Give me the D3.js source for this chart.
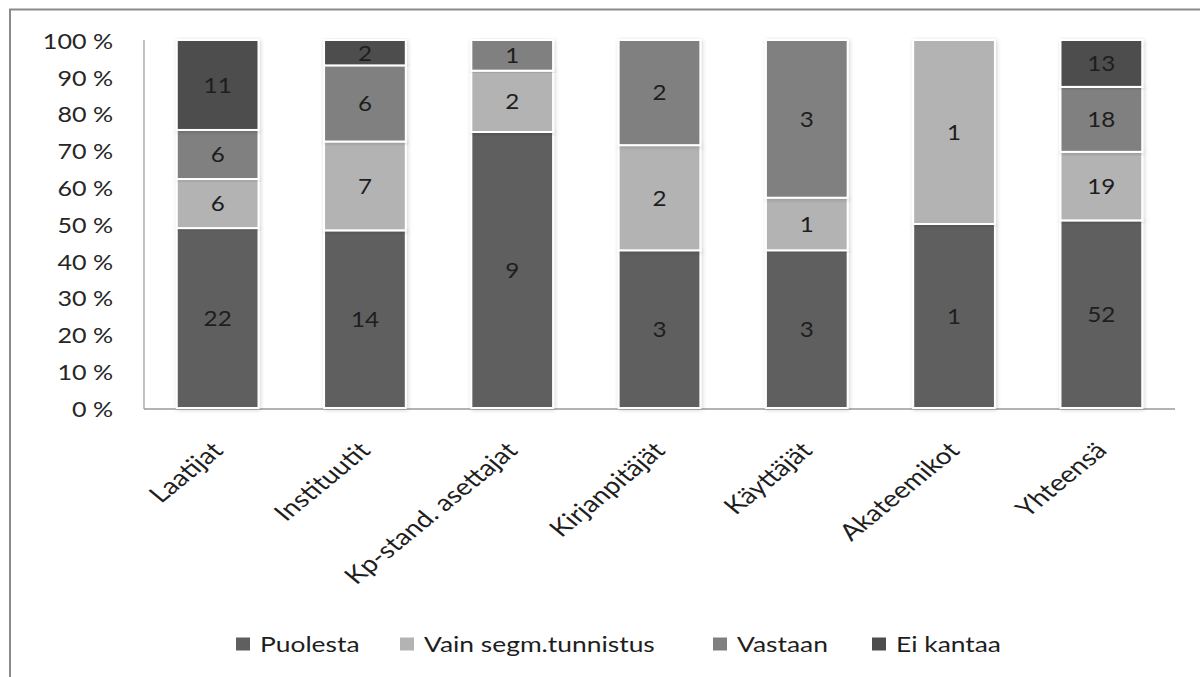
<!DOCTYPE html>
<html>
<head>
<meta charset="utf-8">
<script src="https://cdn.jsdelivr.net/npm/d3@7"></script>
<style>
  html, body { margin: 0; padding: 0; background: #fff; }
  svg { display: block; font-family: Lato, "Open Sans", sans-serif; }
</style>
</head>
<body>
<svg id="chart" width="1200" height="677"></svg>
<script>
// Respondent groups and answer counts per opinion
const categories = ["Laatijat", "Instituutit", "Kp-stand. asettajat", "Kirjanpitäjät", "Käyttäjät", "Akateemikot", "Yhteensä"];
const seriesNames = ["Puolesta", "Vain segm.tunnistus", "Vastaan", "Ei kantaa"];
const puolesta = [22, 14, 9, 3, 3, 1, 52];
const vainSegm = [6, 7, 2, 2, 1, 1, 19];
const vastaan  = [6, 6, 1, 2, 3, 0, 18];
const eiKantaa = [11, 2, 0, 0, 0, 0, 13];
const yTicks = [0, 0.1, 0.2, 0.3, 0.4, 0.5, 0.6, 0.7, 0.8, 0.9, 1];
const colors = ["#5f5f5f", "#b3b3b3", "#808080", "#4d4d4d"];

const seriesValues = [puolesta, vainSegm, vastaan, eiKantaa];
const rows = categories.map((c, i) => {
  const r = { category: c };
  seriesNames.forEach((s, k) => r[s] = seriesValues[k][i]);
  return r;
});

const svg = d3.select("#chart");
const textColor = "#1e1e1e";

// outer frame
svg.append("path")
  .attr("d", "M10,677 L10,9.5 L1200,9.5")
  .attr("fill", "none").attr("stroke", "#8a8a8a").attr("stroke-width", 2);

const plot = { left: 144, right: 1175, top: 40, bottom: 408 };

const x = d3.scaleBand().domain(categories).range([plot.left, plot.right]).paddingInner(0.445).paddingOuter(0.2225);
const y = d3.scaleLinear().domain([0, 1]).range([plot.bottom, plot.top]);

const defs = svg.append("defs");
const f = defs.append("filter").attr("id", "shadow").attr("x", "-10%").attr("y", "-5%").attr("width", "120%").attr("height", "110%");
f.append("feDropShadow").attr("dx", 1).attr("dy", 1).attr("stdDeviation", 2).attr("flood-color", "#000").attr("flood-opacity", 0.18);

// axis lines
svg.append("line").attr("x1", plot.left).attr("x2", plot.left).attr("y1", plot.top).attr("y2", plot.bottom + 1)
  .attr("stroke", "#9a9a9a").attr("stroke-width", 1.2);
svg.append("line").attr("x1", plot.left).attr("x2", plot.right).attr("y1", plot.bottom + 1).attr("y2", plot.bottom + 1)
  .attr("stroke", "#9a9a9a").attr("stroke-width", 1.5);

// y tick labels (percent)
const yAxis = d3.axisLeft(y).tickValues(yTicks).tickSize(0).tickPadding(0)
  .tickFormat(d => Math.round(d * 100) + " %");
const ya = svg.append("g").attr("transform", `translate(${plot.left - 31},0)`).call(yAxis);
ya.select(".domain").remove();
ya.selectAll(".tick text")
  .attr("x", null).attr("dy", null)
  .attr("dominant-baseline", "central")
  .attr("transform", "scale(1.14,1)")
  .attr("font-size", 22).attr("fill", "#262626")
  .attr("font-family", "Lato, 'Open Sans', sans-serif");

// stacked bars
const stack = d3.stack().keys(seriesNames).offset(d3.stackOffsetExpand);
const stacked = stack(rows);

const layers = svg.append("g").selectAll("g").data(stacked).join("g")
  .attr("fill", (d, i) => colors[i]);

layers.selectAll("rect").data(d => d.map(p => ({ p, key: d.key }))).join("rect")
  .filter(d => d.p[1] - d.p[0] > 0)
  .attr("x", d => x(d.p.data.category))
  .attr("y", d => y(d.p[1]))
  .attr("width", x.bandwidth())
  .attr("height", d => y(d.p[0]) - y(d.p[1]))
  .attr("stroke", "#fff").attr("stroke-width", 2)
  .attr("filter", "url(#shadow)");

// value labels centred in each segment
layers.selectAll("text").data(d => d.map(p => ({ p, key: d.key }))).join("text")
  .filter(d => d.p.data[d.key] > 0)
  .attr("transform", d => `translate(${x(d.p.data.category) + x.bandwidth() / 2},${(y(d.p[0]) + y(d.p[1])) / 2}) scale(1.1,1)`)
  .attr("dy", "0.36em")
  .attr("text-anchor", "middle")
  .attr("font-size", 22)
  .attr("fill", textColor)
  .text(d => d.p.data[d.key]);

// category labels, rotated
svg.append("g").selectAll("text").data(categories).join("text")
  .attr("transform", d => `translate(${x(d) + x.bandwidth() / 2 + 7},${plot.bottom + 44}) scale(1.22,1) rotate(-45)`)
  .attr("text-anchor", "end")
  .attr("font-size", 23)
  .attr("fill", textColor)
  .text(d => d);

// legend
const legendX = [236, 400, 713, 872];
const lg = svg.append("g").selectAll("g").data(seriesNames).join("g")
  .attr("transform", (d, i) => `translate(${legendX[i]},644)`);
lg.append("rect").attr("x", 0).attr("y", -6.5).attr("width", 14).attr("height", 13)
  .attr("fill", (d, i) => colors[i]);
lg.append("text").attr("transform", "translate(24,0) scale(1.2,1)")
  .attr("dy", "0.36em").attr("font-size", 22).attr("fill", textColor).text(d => d);
</script>
</body>
</html>
